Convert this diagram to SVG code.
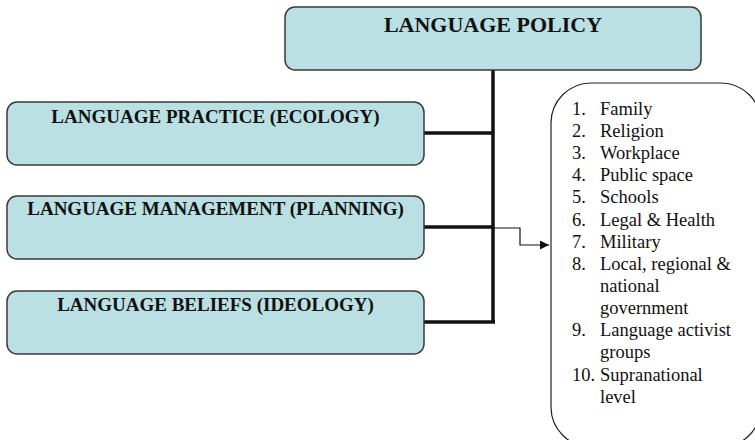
<svg xmlns="http://www.w3.org/2000/svg" width="755" height="440" viewBox="0 0 755 440">
<defs>
<style>
.box{fill:#bae0e3;stroke:#3a3a3a;stroke-width:1.5}
.title{font-family:"Liberation Serif","Times New Roman",serif;font-weight:bold;fill:#111;text-anchor:middle}
.item{font-family:"Liberation Serif","Times New Roman",serif;font-size:18.5px;fill:#111}
.thick{stroke:#111;stroke-width:3.5;fill:none}
.thin{stroke:#111;stroke-width:1.2;fill:none}
</style>
<marker id="arr" viewBox="0 0 10 10" refX="10" refY="5" markerWidth="9" markerHeight="9" markerUnits="userSpaceOnUse" orient="auto">
<path d="M0,0 L10,5 L0,10 z" fill="#111"/>
</marker>
</defs>
<rect width="755" height="440" fill="#fff"/>
<g id="connectors">
<path class="thick" d="M493,70 V323"/>
<path class="thick" d="M424,133 H493"/>
<path class="thick" d="M424,227 H493"/>
<path class="thick" d="M424,322 H495"/>
<path class="thin" d="M493,228 H520 V245 H549" marker-end="url(#arr)"/>
</g>
<g id="policy">
<rect class="box" x="285" y="7" width="416" height="63" rx="10"/>
<text class="title" x="493" y="32" font-size="22">LANGUAGE POLICY</text>
</g>
<g id="practice">
<rect class="box" x="7" y="102" width="417" height="63" rx="10"/>
<text class="title" x="215.5" y="123" font-size="19">LANGUAGE PRACTICE (ECOLOGY)</text>
</g>
<g id="management">
<rect class="box" x="7" y="196" width="417" height="63" rx="10"/>
<text class="title" x="215.5" y="215" font-size="19">LANGUAGE MANAGEMENT (PLANNING)</text>
</g>
<g id="beliefs">
<rect class="box" x="7" y="291" width="417" height="63" rx="10"/>
<text class="title" x="215.5" y="311" font-size="19">LANGUAGE BELIEFS (IDEOLOGY)</text>
</g>
<g id="domains">
<rect x="551" y="83" width="210" height="364" rx="40" fill="#fff" stroke="#222" stroke-width="1.2"/>
<g class="item">
<text x="572" y="115">1.</text><text x="600" y="115">Family</text>
<text x="572" y="137">2.</text><text x="600" y="137">Religion</text>
<text x="572" y="159">3.</text><text x="600" y="159">Workplace</text>
<text x="572" y="181">4.</text><text x="600" y="181">Public space</text>
<text x="572" y="203">5.</text><text x="600" y="203">Schools</text>
<text x="572" y="226">6.</text><text x="600" y="226">Legal &amp; Health</text>
<text x="572" y="248">7.</text><text x="600" y="248">Military</text>
<text x="572" y="270">8.</text><text x="600" y="270">Local, regional &amp;</text>
<text x="600" y="292">national</text>
<text x="600" y="314">government</text>
<text x="572" y="336">9.</text><text x="600" y="336">Language activist</text>
<text x="600" y="358">groups</text>
<text x="572" y="381">10.</text><text x="600" y="381">Supranational</text>
<text x="600" y="403">level</text>
</g>
</g>
</svg>
